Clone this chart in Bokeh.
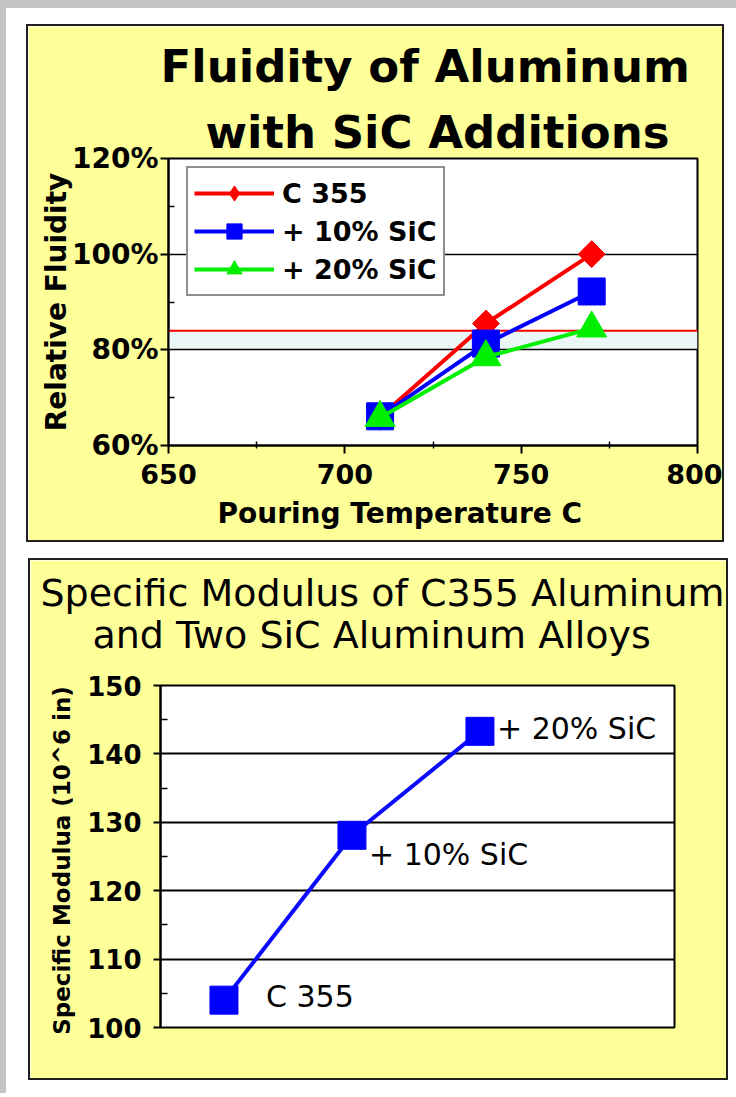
import math
from bokeh.plotting import figure
from bokeh.layouts import column, row
from bokeh.models import (Spacer, Title, Legend, LegendItem, Span, BoxAnnotation,
                          FixedTicker, Range1d)
from bokeh.core.properties import value
from bokeh.embed import file_html
from bokeh.resources import INLINE

# ---------------- Chart 1 data: Fluidity ----------------
title1 = ["Fluidity of Aluminum", "with SiC Additions"]
x1_title = "Pouring Temperature C"
y1_title = "Relative Fluidity"
temps = [710, 740, 770]
c355 = [66.0, 85.5, 100.0]
sic10 = [66.1, 81.3, 92.2]
sic20 = [65.8, 78.5, 84.5]
series_names = ["C 355", "+ 10% SiC", "+ 20% SiC"]
x1_ticks = [650, 700, 750, 800]
x1_minor = [675, 725, 775]
y1_ticks = [60, 80, 100, 120]
y1_tick_labels = ["60%", "80%", "100%", "120%"]
y1_minor = [70, 90, 110]
ref_level = 84
band_range = [80, 84]

# ---------------- Chart 2 data: Specific modulus ----------------
title2 = ["Specific Modulus of C355 Aluminum", "and Two SiC Aluminum Alloys"]
y2_title = "Specific Modulua  (10^6 in)"
alloys = ["C 355", "+ 10% SiC", "+ 20% SiC"]
sic_pct = [0, 10, 20]
modulus = [104.0, 128.1, 143.3]
y2_ticks = [100, 110, 120, 130, 140, 150]
y2_minor = [105, 115, 125, 135, 145]

# ---------------- styles ----------------
FONT = "DejaVu Sans"
YELLOW = "#ffff99"
GRAY = "#c4c4c4"
PANEL_BORDER = {"border": "2px solid #202020"}
label_dx = [42, 17, 17]
label_dy = [-4, 19, -3]


def style_title(t, size, bold):
    t.text_font = FONT
    t.text_font_size = size
    t.text_font_style = "bold" if bold else "normal"
    t.text_color = "black"
    t.align = "left"
    return t


# ================= Figure 1 =================
p1 = figure(width=698, height=518, x_range=Range1d(650, 800), y_range=Range1d(60, 120),
            output_backend="svg", toolbar_location=None,
            min_border_left=140, min_border_right=29, min_border_top=131, min_border_bottom=99,
            background_fill_color="white", border_fill_color=YELLOW,
            outline_line_color="black", outline_line_width=2)
p1.styles = PANEL_BORDER

p1.add_layout(BoxAnnotation(bottom=band_range[0], top=band_range[1], fill_color="#ebf7f7",
                            fill_alpha=1, line_alpha=0, level="image"))
p1.add_layout(Span(location=ref_level, dimension="width", line_color="#ff0000",
                   line_width=2, level="underlay"))

p1.xgrid.visible = False
p1.ygrid.ticker = FixedTicker(ticks=y1_ticks)
p1.ygrid.grid_line_color = "black"
p1.ygrid.grid_line_width = 1.5

for ax in (p1.xaxis[0], p1.yaxis[0]):
    ax.axis_line_color = "black"
    ax.axis_line_width = 2
    ax.major_tick_line_width = 2
    ax.minor_tick_line_width = 1.5
    ax.major_tick_line_color = "black"
    ax.minor_tick_line_color = "black"
    ax.major_label_text_font = FONT
    ax.major_label_text_font_style = "bold"
    ax.major_label_text_color = "black"

p1.xaxis.ticker = FixedTicker(ticks=x1_ticks, minor_ticks=x1_minor)
p1.xaxis.major_tick_out = 8
p1.xaxis.major_tick_in = 0
p1.xaxis.minor_tick_in = 4
p1.xaxis.minor_tick_out = 3
p1.xaxis.major_label_text_font_size = "27px"
p1.xaxis.major_label_standoff = 10

p1.yaxis.ticker = FixedTicker(ticks=y1_ticks, minor_ticks=y1_minor)
p1.yaxis.major_label_overrides = dict(zip(y1_ticks, y1_tick_labels))
p1.yaxis.major_tick_out = 8
p1.yaxis.major_tick_in = 0
p1.yaxis.minor_tick_in = 6
p1.yaxis.minor_tick_out = 0
p1.yaxis.major_label_text_font_size = "28px"
p1.yaxis.major_label_standoff = 2
p1.yaxis.axis_label = y1_title
p1.yaxis.axis_label_text_font = FONT
p1.yaxis.axis_label_text_font_size = "28px"
p1.yaxis.axis_label_text_font_style = "bold"
p1.yaxis.axis_label_text_color = "black"
p1.yaxis.axis_label_standoff = -4

colors = ["#ff0000", "#0000ff", "#00ee00"]
items = []

# C 355: diamonds (a plain diamond underneath gives the legend its diamond glyph)
lr = p1.line(temps, c355, line_color=colors[0], line_width=4)
dr = p1.scatter(temps, c355, marker="diamond", size=26, fill_color=colors[0], line_color=colors[0])
p1.scatter(temps, c355, marker="square", angle=math.pi / 4, size=19,
           fill_color=colors[0], line_color=colors[0])
items.append(LegendItem(label=series_names[0], renderers=[lr, dr]))

# + 10% SiC: squares
lr = p1.line(temps, sic10, line_color=colors[1], line_width=4)
sr = p1.scatter(temps, sic10, marker="square", size=27, fill_color=colors[1], line_color=colors[1])
items.append(LegendItem(label=series_names[1], renderers=[lr, sr]))

# + 20% SiC: triangles
lr = p1.line(temps, sic20, line_color=colors[2], line_width=4)
sr = p1.scatter(temps, sic20, marker="triangle", size=30, fill_color=colors[2], line_color=colors[2])
items.append(LegendItem(label=series_names[2], renderers=[lr, sr]))

leg = Legend(items=items, location=(18, 149), orientation="vertical",
             label_text_font=FONT, label_text_font_size="27px", label_text_font_style="bold",
             label_text_color="black", glyph_width=80, glyph_height=38, label_height=38,
             label_standoff=8, spacing=0, padding=6, margin=0,
             border_line_color="#202020", border_line_width=2,
             background_fill_color="white", background_fill_alpha=1)
p1.add_layout(leg, "center")

# titles: first added sits closest to the frame; offsets measured from the frame's left edge
p1.add_layout(style_title(Title(text=title1[1], offset=37, standoff=0), "45px", True), "above")
p1.add_layout(style_title(Title(text=title1[0], offset=-8, standoff=22), "45px", True), "above")
p1.add_layout(style_title(Title(text=x1_title, offset=49, standoff=16), "28px", True), "below")

# ================= Figure 2 =================
p2 = figure(width=700, height=522, x_range=Range1d(-4.96, 35.2), y_range=Range1d(100, 150),
            output_backend="svg", toolbar_location=None,
            min_border_left=130, min_border_right=56, min_border_top=125, min_border_bottom=55,
            background_fill_color="white", border_fill_color=YELLOW,
            outline_line_color="black", outline_line_width=2)
p2.styles = PANEL_BORDER
p2.xaxis.visible = False
p2.xgrid.visible = False
p2.ygrid.ticker = FixedTicker(ticks=y2_ticks)
p2.ygrid.grid_line_color = "black"
p2.ygrid.grid_line_width = 2

ay = p2.yaxis[0]
ay.ticker = FixedTicker(ticks=y2_ticks, minor_ticks=y2_minor)
ay.axis_line_color = "black"
ay.axis_line_width = 2
ay.major_tick_line_width = 2
ay.minor_tick_line_width = 1.5
ay.major_tick_out = 7
ay.major_tick_in = 0
ay.minor_tick_in = 7
ay.minor_tick_out = 0
ay.major_label_text_font = FONT
ay.major_label_text_font_style = "bold"
ay.major_label_text_font_size = "26px"
ay.major_label_text_color = "black"
ay.major_label_standoff = 12
ay.axis_label = y2_title
ay.axis_label_text_font = FONT
ay.axis_label_text_font_size = "23px"
ay.axis_label_text_font_style = "bold"
ay.axis_label_text_color = "black"
ay.axis_label_standoff = 9

p2.line(sic_pct, modulus, line_color="#0a0aff", line_width=4)
p2.scatter(sic_pct, modulus, marker="square", size=28, fill_color="#0000ff", line_color="#0000ff")
p2.text(x=sic_pct, y=modulus, text=alloys, x_offset=label_dx, y_offset=label_dy,
        text_font=value(FONT), text_font_size="30px", text_color="black",
        text_align="left", text_baseline="alphabetic")

p2.add_layout(style_title(Title(text=title2[1], offset=-68, standoff=58), "38px", False), "above")
p2.add_layout(style_title(Title(text=title2[0], offset=-120, standoff=-66), "38px", False), "above")

charts = column(
    Spacer(height=16),
    row(Spacer(width=20), p1),
    Spacer(height=16),
    row(Spacer(width=22), p2),
)
layout = column(
    Spacer(width=736, height=8, styles={"background-color": GRAY}),
    row(Spacer(width=6, height=1085, styles={"background-color": GRAY}), charts),
)

open("out.html", "w").write(file_html(layout, INLINE))
